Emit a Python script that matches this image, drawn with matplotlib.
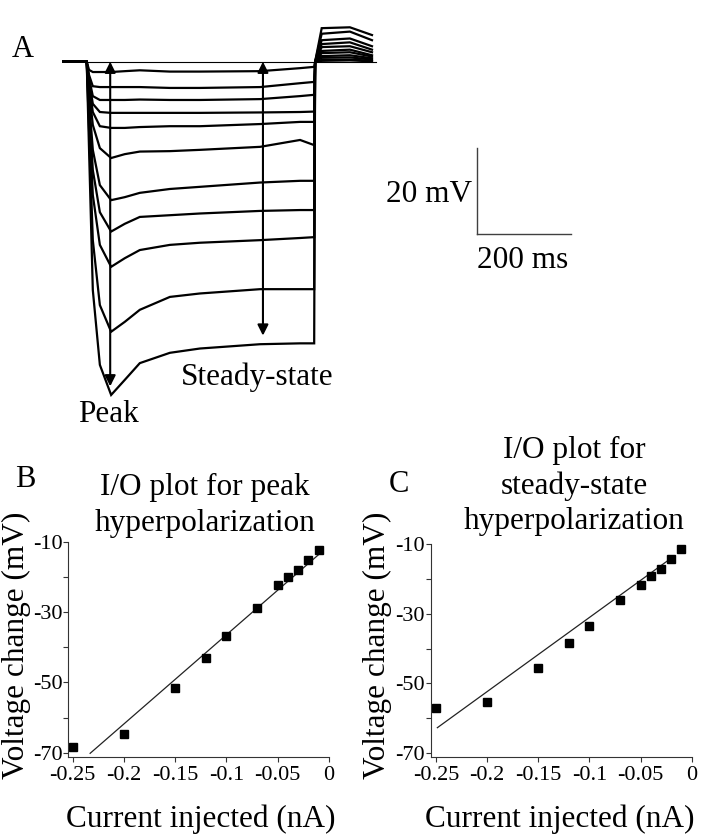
'''
    Hyperpolarizing current steps (A) and I/O plots for peak (B) and
    steady-state (C) hyperpolarization.
'''

import matplotlib
matplotlib.use("Agg")
import matplotlib.pyplot as plt

W, H = 704, 839

plt.rcParams['font.family'] = ['Liberation Serif', 'DejaVu Serif']
plt.rcParams['axes.unicode_minus'] = False

# ---- panel A : voltage sweeps (ms, mV relative to rest) ----
pre_t = [-50]
pulse_t = [0, 5, 13, 28, 52, 81, 113, 177, 241, 369, 454, 484]
off_t = [486, 500, 560, 607]

sweep01 = [0, -1.9, -2.4, -2.4, -2.4, -2.2, -2.0, -2.3, -2.3, -2.2, -1.5, -1.2]
sweep02 = [0, -3.1, -5.7, -5.9, -5.9, -5.9, -5.9, -6.1, -6.1, -5.9, -5.0, -4.7]
sweep03 = [0, -3.8, -8.0, -8.9, -8.9, -8.9, -8.8, -8.9, -8.9, -8.7, -8.0, -7.7]
sweep04 = [0, -4.3, -9.8, -11.7, -11.9, -11.9, -11.9, -11.9, -11.9, -11.8, -11.7, -11.6]
sweep05 = [0, -5.4, -11.7, -15.0, -15.4, -15.4, -15.2, -15.0, -15.0, -14.5, -14.0, -14.0]
sweep06 = [0, -6.6, -14.7, -20.1, -22.4, -21.5, -20.9, -20.8, -20.5, -19.8, -18.2, -19.4]
sweep07 = [0, -8.9, -20.5, -28.7, -32.2, -31.5, -30.5, -29.6, -29.1, -28.1, -27.7, -27.7]
sweep08 = [0, -10.1, -25.2, -35.0, -39.5, -37.7, -36.1, -35.7, -35.3, -34.7, -34.5, -34.5]
sweep09 = [0, -12.4, -31.0, -42.6, -47.7, -45.7, -43.8, -42.6, -42.1, -41.5, -41.0, -40.8]
sweep10 = [0, -15.9, -41.5, -56.6, -62.8, -60.5, -57.7, -54.7, -53.9, -52.9, -52.9, -52.9]
sweep11 = [0, -20.5, -53.1, -70.5, -77.5, -74.0, -70.1, -67.7, -66.7, -65.7, -65.5, -65.5]
# rebound after the step: value at onset, mid and end of the window
rebound_on = [0.2, 0.4, 0.9, 1.3, 2.0, 2.5, 3.4, 4.1, 5.0, 6.5, 7.8]
rebound_mid = [0.3, 0.5, 1.0, 1.5, 2.2, 2.8, 3.6, 4.5, 5.4, 7.0, 8.0]
rebound_end = [0.1, 0.2, 0.5, 0.8, 1.2, 1.5, 2.2, 2.8, 3.6, 5.0, 6.2]

peak_t = 50
steady_t = 375
scalebar_t = 830
scalebar_v = -20
scale_mv = 20
scale_ms = 200

# ---- panels B, C ----
current_na = [-0.25, -0.2, -0.15, -0.12, -0.1, -0.07, -0.05, -0.04, -0.03, -0.02, -0.01]
peak_mv = [-68.5, -64.7, -51.6, -43.0, -36.8, -28.7, -22.3, -20.1, -17.9, -15.0, -12.3]
steady_mv = [-57.2, -55.5, -45.5, -38.5, -33.4, -26.0, -21.8, -19.2, -17.0, -14.1, -11.4]
peak_fit_x = [-0.233, -0.007]
peak_fit_y = [-70.2, -12.8]
steady_fit_x = [-0.2487, -0.0196]
steady_fit_y = [-62.8, -13.9]

x_ticks = [-0.25, -0.2, -0.15, -0.1, -0.05, 0]
x_tick_labels = ["-0.25", "-0.2", "-0.15", "-0.1", "-0.05", "0"]
y_ticks = [-10, -30, -50, -70]
y_tick_labels = ["-10", "-30", "-50", "-70"]
y_minor = [-20, -40, -60]

title_b = ["I/O plot for peak", "hyperpolarization"]
title_c = ["I/O plot for", "steady-state", "hyperpolarization"]


def fx(x):
    return x / W


def fy(y):
    return 1 - y / H


def px_text(fig, x, y, s, size=22.5, ha='center', va='baseline', **kw):
    fig.text(fx(x), fy(y), s, fontsize=size, ha=ha, va=va, **kw)


fig = plt.figure(figsize=(W / 100, H / 100), dpi=100)

# panel A in its own frame: ms horizontally, mV vertically
T0_PX, PX_PER_MS = 86.7, 0.47
V0_PX, PX_PER_MV = 61.7, 4.3
ax = fig.add_axes([0, 0, 1, 1])
ax.set_xlim(-T0_PX / PX_PER_MS, (W - T0_PX) / PX_PER_MS)
ax.set_ylim(-(H - V0_PX) / PX_PER_MV, V0_PX / PX_PER_MV)
ax.axis('off')

sweeps = [sweep01, sweep02, sweep03, sweep04, sweep05, sweep06,
          sweep07, sweep08, sweep09, sweep10, sweep11]
for sw, r0, r1, r2 in zip(sweeps, rebound_on, rebound_mid, rebound_end):
    t = pre_t + pulse_t + off_t
    v = [0] + sw + [0, r0, r1, r2]
    ax.plot(t, v, color='black', lw=1.6, solid_joinstyle='miter')

ax.plot([0, off_t[-1] + 8], [0, 0], color='black', lw=0.8)

big = sweeps[-1]
peak_v = min(big)
steady_v = big[pulse_t.index(369)]
for t_arrow, v_end in [(peak_t, peak_v + 2), (steady_t, steady_v + 2)]:
    ax.annotate('', xy=(t_arrow, v_end), xytext=(t_arrow, 0),
                arrowprops=dict(arrowstyle='<|-|>', color='black', lw=1.5,
                                mutation_scale=16, shrinkA=0, shrinkB=0))

ax.plot([scalebar_t, scalebar_t], [scalebar_v, scalebar_v - scale_mv],
        color='#404040', lw=1)
ax.plot([scalebar_t, scalebar_t + scale_ms],
        [scalebar_v - scale_mv, scalebar_v - scale_mv], color='#404040', lw=1)

px_text(fig, 471.7, 201.7, "20 mV", ha='right')
px_text(fig, 523, 268.3, "200 ms")
px_text(fig, 108, 421.7, "Peak")
px_text(fig, 256.7, 385, "Steady-state")
px_text(fig, 23, 57, "A", size=22)
px_text(fig, 25, 487, "B", size=22)
px_text(fig, 399, 492, "C", size=22)


def io_panel(rect, ylim, xlim, values, fit_x, fit_y):
    a = fig.add_axes(rect)
    a.plot(fit_x, fit_y, color='#222222', lw=0.9)
    a.plot(current_na, values, 's', color='black', ms=5.5, clip_on=False)
    a.set_xlim(*xlim)
    a.set_ylim(*ylim)
    a.set_xticks(x_ticks)
    a.set_xticklabels(x_tick_labels)
    a.set_yticks(y_ticks)
    a.set_yticklabels(y_tick_labels)
    a.set_yticks(y_minor, minor=True)
    for s in ['top', 'right']:
        a.spines[s].set_visible(False)
    for s in ['left', 'bottom']:
        a.spines[s].set_color('#333333')
        a.spines[s].set_linewidth(0.8)
    a.tick_params(which='both', direction='out', length=3.6, width=0.8,
                  color='#333333', labelsize=16)
    a.tick_params(axis='y', pad=0.5)
    a.tick_params(axis='x', pad=3)
    a.patch.set_alpha(0)
    return a


io_panel([fx(68), fy(757), (329 - 68) / W, (757 - 542) / H],
         (-71.25, -10), (-0.2546, 0), peak_mv, peak_fit_x, peak_fit_y)
io_panel([fx(430.7), fy(756.7), (691.7 - 430.7) / W, (756.7 - 544.3) / H],
         (-71.15, -10), (-0.2552, 0), steady_mv, steady_fit_x, steady_fit_y)

for line, y in zip(title_b, [495, 531.5]):
    px_text(fig, 205, y, line)
for line, y in zip(title_c, [458, 493.5, 529]):
    px_text(fig, 574, y, line)

for x in [16.7, 377.5]:
    px_text(fig, x, 645, "Voltage change (mV)", va='center', rotation=90)
px_text(fig, 200.8, 826.7, "Current injected (nA)")
px_text(fig, 560, 826.7, "Current injected (nA)")

fig.savefig("out.png", dpi=100)
